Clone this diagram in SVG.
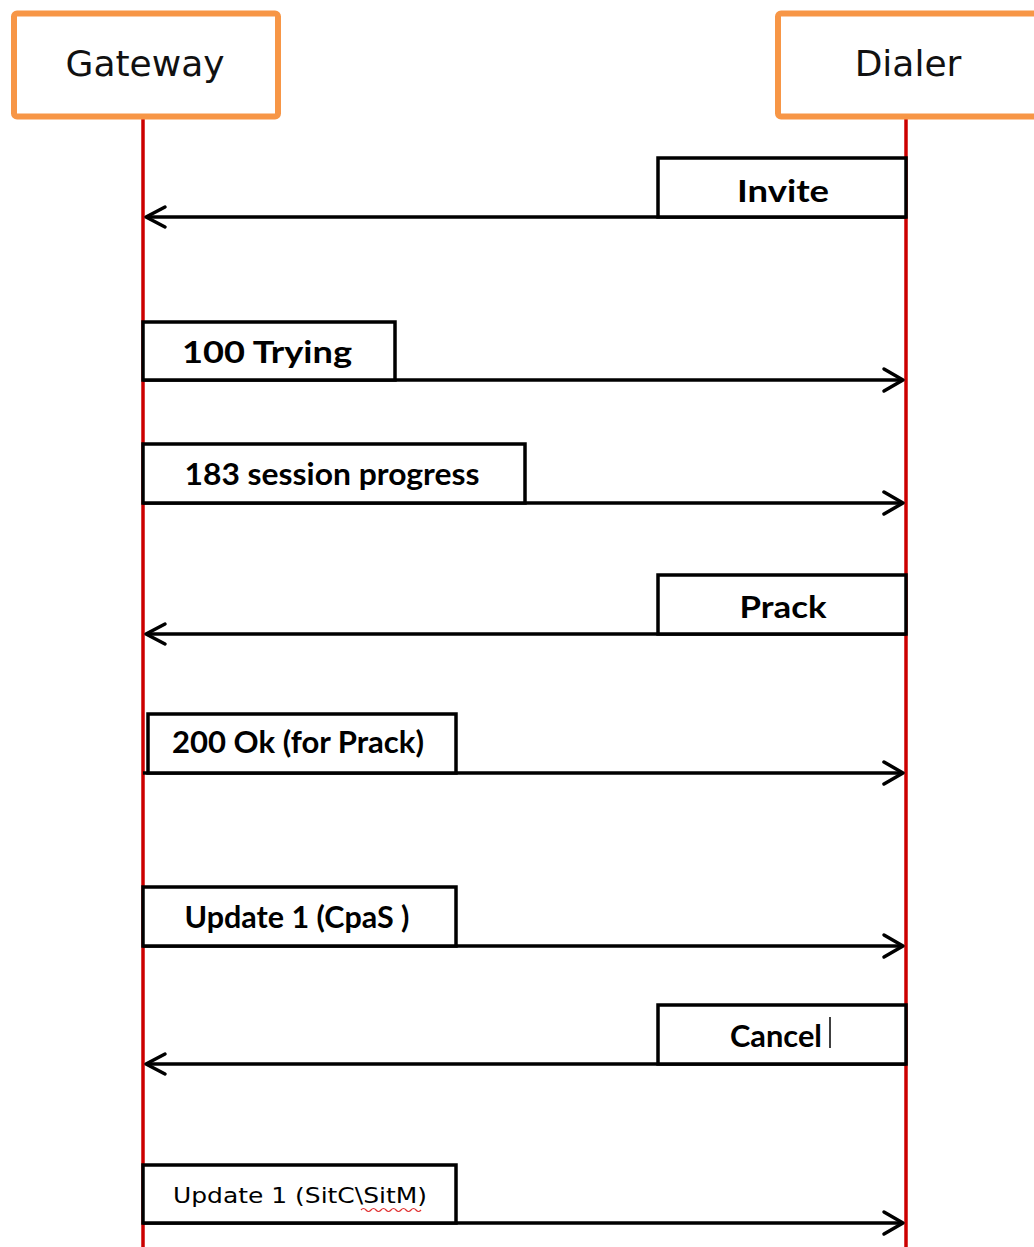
<svg xmlns="http://www.w3.org/2000/svg" width="1034" height="1247" viewBox="0 0 1034 1247">
<style>
.actor{fill:#fff;stroke:#F79646;stroke-width:6}
.actor-t{font-family:"DejaVu Sans",sans-serif;font-size:36px;fill:#111;text-anchor:middle}
.life{stroke:#CC0000;stroke-width:3.5;fill:none}
.lbl{fill:#fff;stroke:#000;stroke-width:3.5}
.msg{stroke:#000;stroke-width:3.5;fill:none}
.head{stroke:#000;stroke-width:3.5;fill:none;stroke-linecap:round;stroke-linejoin:round}
.t{font-family:Lato,"Liberation Sans",sans-serif;font-weight:bold;font-size:31px;fill:#000;text-anchor:middle}
.t2{font-family:"DejaVu Sans",sans-serif;font-size:22px;fill:#000;text-anchor:middle}
</style>
<rect width="1034" height="1247" fill="#fff"/>
<g id="lifelines">
<line class="life" x1="143" y1="119" x2="143" y2="1247"/>
<line class="life" x1="906" y1="119" x2="906" y2="1247"/>
</g>
<g id="gateway">
<rect class="actor" x="14" y="13.5" width="264" height="103" rx="3"/>
<text class="actor-t" x="145" y="76">Gateway</text>
</g>
<g id="dialer">
<rect class="actor" x="778" y="13.5" width="270" height="103" rx="3"/>
<text class="actor-t" x="908" y="76" font-size="35">Dialer</text>
</g>
<g id="connectors">
<line class="msg" x1="906" y1="217" x2="146" y2="217"/>
<path class="head" d="M165,207 L146,217 L165,227"/>
<line class="msg" x1="143" y1="380" x2="903" y2="380"/>
<path class="head" d="M884,369 L903,380 L884,391"/>
<line class="msg" x1="143" y1="503" x2="903" y2="503"/>
<path class="head" d="M884,492 L903,503 L884,514"/>
<line class="msg" x1="906" y1="634" x2="146" y2="634"/>
<path class="head" d="M165,624 L146,634 L165,644"/>
<line class="msg" x1="143" y1="773" x2="903" y2="773"/>
<path class="head" d="M884,762 L903,773 L884,784"/>
<line class="msg" x1="143" y1="946" x2="903" y2="946"/>
<path class="head" d="M884,935 L903,946 L884,957"/>
<line class="msg" x1="906" y1="1064" x2="146" y2="1064"/>
<path class="head" d="M165,1054 L146,1064 L165,1074"/>
<line class="msg" x1="143" y1="1223" x2="903" y2="1223"/>
<path class="head" d="M884,1212 L903,1223 L884,1234"/>
</g>
<g id="msg-invite">
<rect class="lbl" x="658" y="158" width="248" height="59"/>
<text class="t" x="783" y="202" textLength="92" lengthAdjust="spacingAndGlyphs">Invite</text>
</g>
<g id="msg-100">
<rect class="lbl" x="143" y="322" width="252" height="58"/>
<text class="t" x="267" y="363" textLength="170" lengthAdjust="spacingAndGlyphs">100 Trying</text>
</g>
<g id="msg-183">
<rect class="lbl" x="143" y="444" width="382" height="59"/>
<text class="t" x="332" y="485" font-size="29" textLength="295" lengthAdjust="spacingAndGlyphs">183 session progress</text>
</g>
<g id="msg-prack">
<rect class="lbl" x="658" y="575" width="248" height="59"/>
<text class="t" x="783" y="618" textLength="87" lengthAdjust="spacingAndGlyphs">Prack</text>
</g>
<g id="msg-200">
<rect class="lbl" x="148" y="714" width="308" height="59"/>
<text class="t" x="298" y="753" font-size="29" textLength="252" lengthAdjust="spacingAndGlyphs">200 Ok (for Prack)</text>
</g>
<g id="msg-update1">
<rect class="lbl" x="143" y="887" width="313" height="59"/>
<text class="t" x="297" y="928" font-size="29" textLength="225" lengthAdjust="spacingAndGlyphs">Update 1 (CpaS )</text>
</g>
<g id="msg-cancel">
<rect class="lbl" x="658" y="1005" width="248" height="59"/>
<text class="t" x="776" y="1047" textLength="92" lengthAdjust="spacingAndGlyphs">Cancel</text>
<line x1="830" y1="1017" x2="830" y2="1048" stroke="#000" stroke-width="1.5"/>
</g>
<g id="msg-update2">
<rect class="lbl" x="143" y="1165" width="313" height="58"/>
<text class="t2" x="300" y="1203" textLength="254" lengthAdjust="spacingAndGlyphs">Update 1 (SitC\SitM)</text>
<path d="M361,1210 q2.5,-3 5,0 t5,0 t5,0 t5,0 t5,0 t5,0 t5,0 t5,0 t5,0 t5,0 t5,0 t5,0" fill="none" stroke="#E03030" stroke-width="1.2"/>
</g>
</svg>
